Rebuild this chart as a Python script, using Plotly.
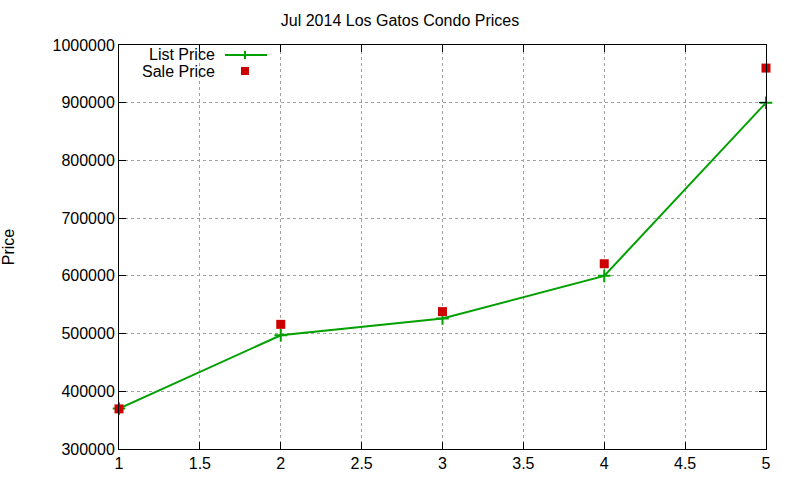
import plotly.graph_objects as go

months = [1, 2, 3, 4, 5]
list_price = [370000, 497000, 526000, 600000, 900000]
sale_price = [369500, 516000, 538000, 621000, 960000]

x_ticks = [1, 1.5, 2, 2.5, 3, 3.5, 4, 4.5, 5]
y_ticks = [300000, 400000, 500000, 600000, 700000, 800000, 900000, 1000000]

green = "#00a000"
red = "#cc0000"
font = "Liberation Sans, Arial, sans-serif"

# plot area in pixels (gnuplot layout)
L, R, T, B = 119, 766, 45, 449


def px(x):
    return (x - L) / (R - L)


def py(y):
    return (B - y) / (B - T)


fig = go.Figure()
fig.add_trace(go.Scatter(
    x=months, y=list_price, mode="lines+markers", name="List Price",
    line=dict(color=green, width=2), cliponaxis=False,
    marker=dict(symbol="cross-thin", size=9, line=dict(color=green, width=2)),
))
fig.add_trace(go.Scatter(
    x=months, y=sale_price, mode="markers", name="Sale Price", cliponaxis=False,
    marker=dict(symbol="square", size=9, color=red),
))

axis_common = dict(
    showline=True, linecolor="black", linewidth=1, mirror="ticks",
    ticks="inside", ticklen=7, tickcolor="black",
    showgrid=True, gridcolor="#a0a0a0", griddash="dot", gridwidth=1,
    zeroline=False, tickfont=dict(size=16, color="black", family=font),
)
fig.update_xaxes(range=[1, 5], tickvals=x_ticks, ticktext=[f"{v:g}" for v in x_ticks], **axis_common)
fig.update_yaxes(range=[300000, 1000000], tickvals=y_ticks, ticktext=[str(v) for v in y_ticks],
                 title=dict(text="Price", font=dict(size=16, family=font, color="black"), standoff=40),
                 **axis_common)

# gnuplot-style key: text on the left, sample on the right
for label, y in [("List Price", 54), ("Sale Price", 72)]:
    fig.add_annotation(x=px(217), y=py(y), xref="paper", yref="paper", text=label, showarrow=False,
                       xanchor="right", yanchor="middle", height=15,
                       font=dict(size=16, family=font, color="black"))

fig.add_shape(type="line", xref="paper", yref="paper", x0=px(225), x1=px(267), y0=py(55), y1=py(55),
              line=dict(color=green, width=2))
fig.add_shape(type="line", xref="paper", yref="paper", x0=px(245), x1=px(245), y0=py(51), y1=py(59),
              line=dict(color=green, width=2))
fig.add_shape(type="rect", xref="paper", yref="paper", x0=px(241), x1=px(249), y0=py(67), y1=py(75),
              fillcolor=red, line=dict(width=0))

fig.update_layout(
    width=800, height=480,
    margin=dict(l=L, r=800 - R, t=T, b=480 - B, autoexpand=False),
    paper_bgcolor="white", plot_bgcolor="white",
    showlegend=False,
    title=dict(text="Jul 2014 Los Gatos Condo Prices", x=0.5, xanchor="center", y=1 - 20 / 480, yanchor="middle",
               font=dict(size=16, family=font, color="black")),
    font=dict(family=font, size=16, color="black"),
)
fig.write_html("out.html", config={"displayModeBar": False},
               post_script="document.body.style.margin='0';")
